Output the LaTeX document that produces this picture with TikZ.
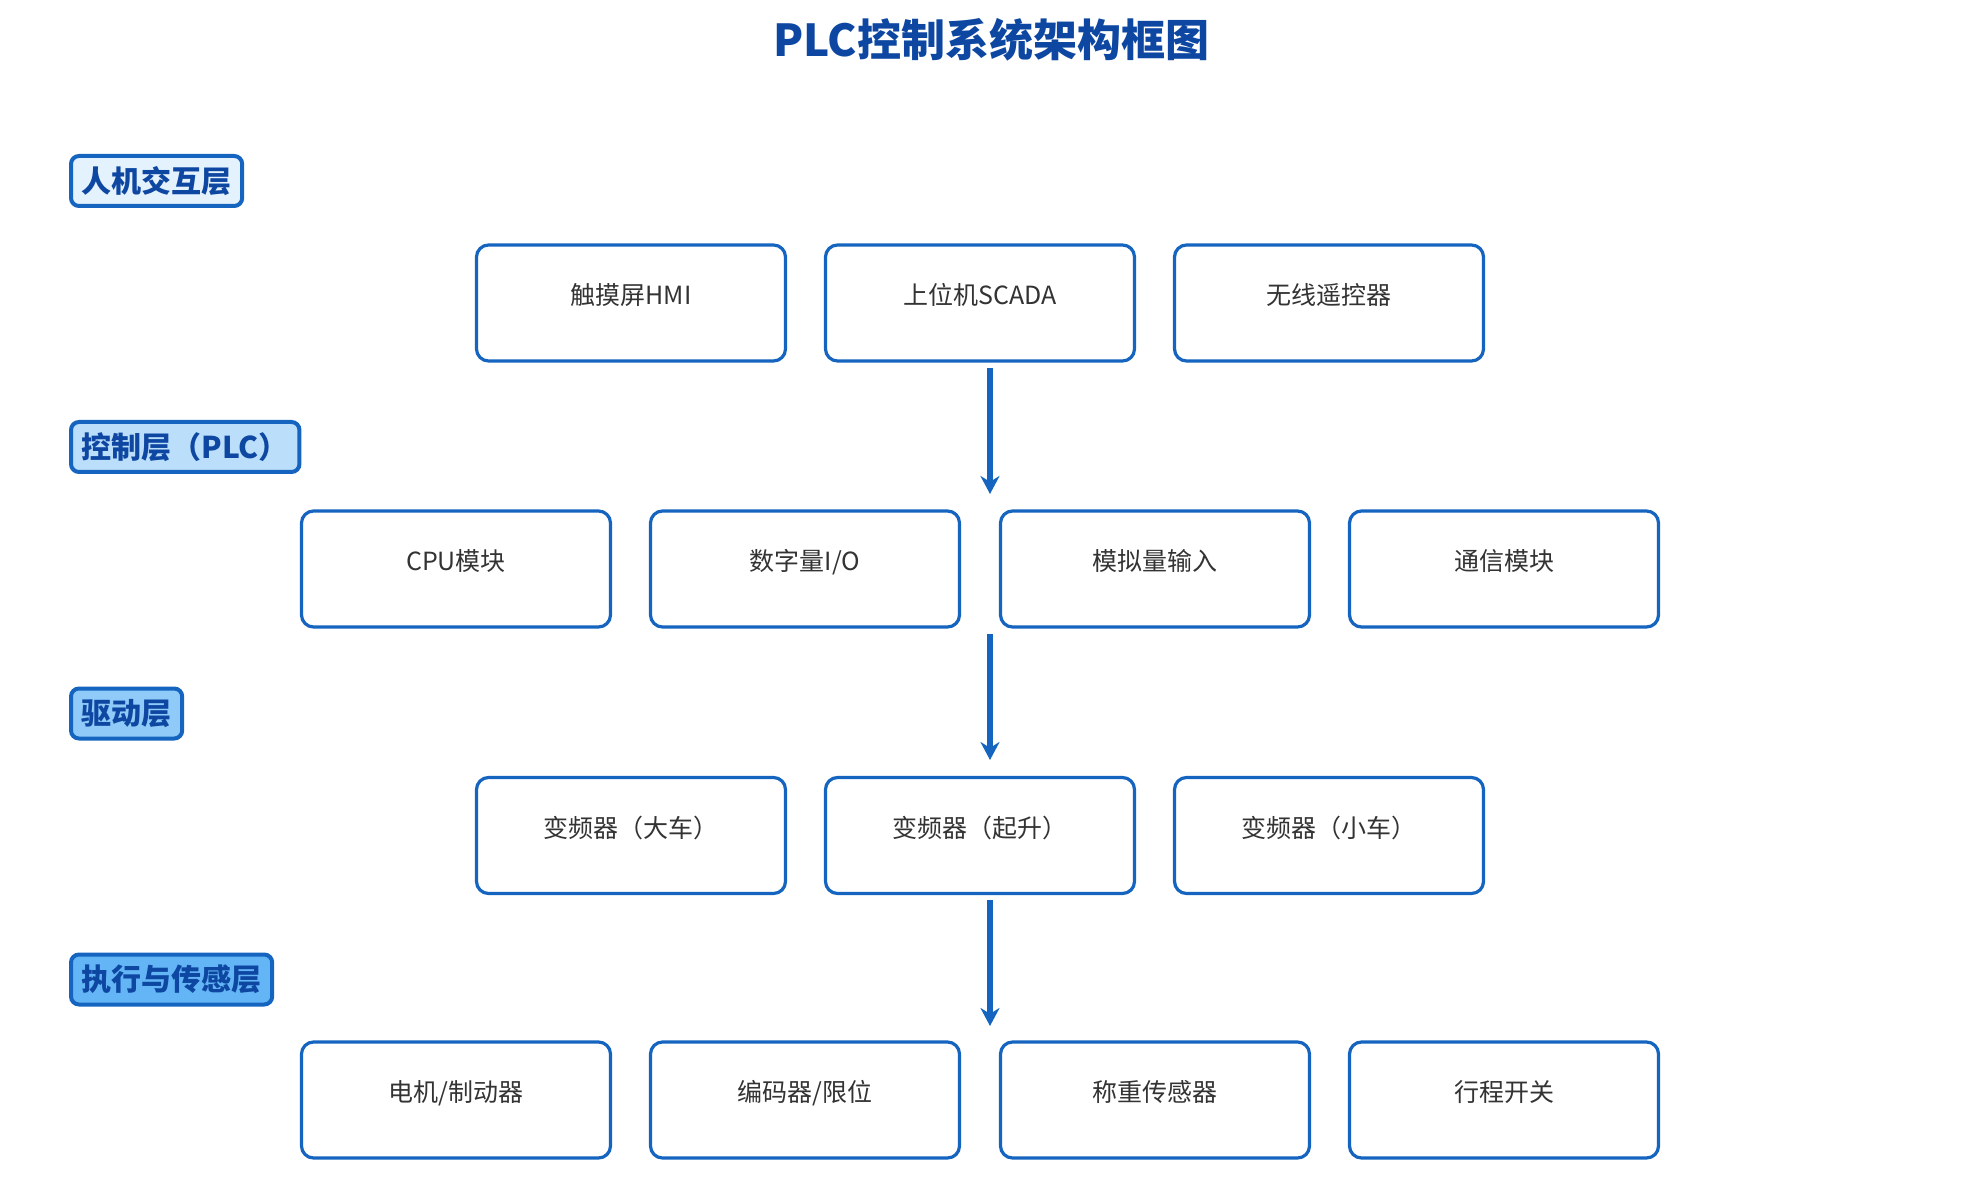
\documentclass[tikz,border=0pt]{standalone}
\usepackage{fontspec}
\setmainfont{Noto Sans CJK SC}
\usetikzlibrary{arrows.meta}
\definecolor{frameblue}{HTML}{1565C0}
\definecolor{titleblue}{HTML}{0D47A1}
\definecolor{textgray}{HTML}{333333}
\definecolor{layerA}{HTML}{E3F2FD}
\definecolor{layerB}{HTML}{BBDEFB}
\definecolor{layerC}{HTML}{90CAF9}
\definecolor{layerD}{HTML}{64B5F6}
\tikzset{
  unit/.style={draw=frameblue,line width=1.6pt,rounded corners=6pt,fill=white,
    minimum width=154.5pt,minimum height=58pt,text=textgray,
    font=\fontsize{12.5}{15}\selectfont,text height=6pt,text depth=4.5pt},
  layer/.style={draw=frameblue,line width=2pt,rounded corners=4pt,anchor=west,
    text=titleblue,font=\bfseries\fontsize{15}{18}\selectfont,
    minimum height=25pt,inner xsep=5.3pt},
  flow/.style={draw=frameblue,line width=2.6pt,-{Stealth[length=9pt,width=9.5pt]}}
}
\begin{document}
\begin{tikzpicture}[x=0.5pt,y=-0.5pt]
  \useasboundingbox (0,0) rectangle (1979,1181);
     \node (title) at (991,40)[text=titleblue,font=\bfseries\fontsize{22}{26}\selectfont]{PLC控制系统架构框图};
       \node (lhmi) at (69,181)[layer,fill=layerA]{人机交互层};
       \node (lplc) at (69,447)[layer,fill=layerB]{控制层（PLC）};
       \node (ldrv) at (69,713.5)[layer,fill=layerC]{驱动层};
       \node (lact) at (69,979.5)[layer,fill=layerD]{执行与传感层};

     \node (hmi) at (631,303)[unit]{触摸屏HMI};
       \node (scada) at (980,303)[unit]{上位机SCADA};
         \node (remote) at (1329,303)[unit]{无线遥控器};
     \node (cpu) at (456,569)[unit]{CPU模块};
       \node (digio) at (805,569)[unit]{数字量I/O};
         \node (anain) at (1155,569)[unit]{模拟量输入};
           \node (comm) at (1504,569)[unit]{通信模块};
     \node (vfdb) at (631,835.5)[unit]{变频器（大车）};
       \node (vfdh) at (980,835.5)[unit]{变频器（起升）};
         \node (vfdt) at (1329,835.5)[unit]{变频器（小车）};
     \node (motor) at (456,1100)[unit]{电机/制动器};
       \node (enc) at (805,1100)[unit]{编码器/限位};
         \node (load) at (1155,1100)[unit]{称重传感器};
           \node (limit) at (1504,1100)[unit]{行程开关};

  \coordinate (arr1e) at (990,494);
  \coordinate (arr2s) at (990,634);
  \coordinate (arr2e) at (990,760);
  \coordinate (arr3e) at (990,1026);
  \draw[flow] ([xshift=5pt,yshift=-2.5pt]scada.south)--(arr1e);
  \draw[flow] (arr2s)--(arr2e);
  \draw[flow] ([xshift=5pt,yshift=-2.5pt]vfdh.south)--(arr3e);
\end{tikzpicture}
\end{document}
